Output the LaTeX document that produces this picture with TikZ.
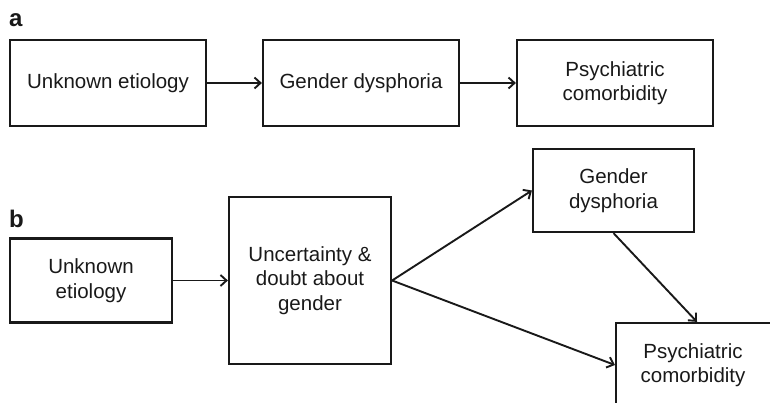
\documentclass[tikz,border=0pt]{standalone}
\usepackage{fontspec}
\setmainfont{Liberation Sans}
\usetikzlibrary{arrows.meta}
\begin{document}
\begin{tikzpicture}[x=1pt,y=-1pt,
  box/.style={draw=black!90, line width=2.2pt, align=center, inner sep=0pt,
    font=\fontsize{20.5}{24.5}\selectfont, text=black!90},
  conn/.style={line width=1.9pt, draw=black!90, -{Straight Barb[length=6pt,width=11pt,line width=1.9pt]}},
  panel/.style={font=\fontsize{24}{24}\bfseries\selectfont, inner sep=0pt, anchor=base west, text=black!90}]
\useasboundingbox (0,0) rectangle (770,403);
\clip (0,0) rectangle (770,403);
\node[panel] (la) at (9,27) {a};
\node[panel] (lb) at (9,227) {b};
% panel a
\node[box, minimum width=196pt, minimum height=86pt] (a1) at (108,83) {Unknown etiology};
\node[box, minimum width=196pt, minimum height=86pt] (a2) at (361,83) {Gender dysphoria};
\node[box, minimum width=196pt, minimum height=86pt] (a3) at (615,83) {Psychiatric\\comorbidity};
\draw[conn] (a1.east) -- (a2.west);
\draw[conn] (a2.east) -- (a3.west);
% panel b
\node[box, minimum width=162pt, minimum height=84pt] (b1) at (91,280.5) {Unknown\\etiology};
\node[box, minimum width=162pt, minimum height=167pt] (b2) at (310,280.5) {Uncertainty \&\\doubt about\\gender};
\node[box, minimum width=161pt, minimum height=83pt] (b3) at (613.5,190.5) {Gender\\dysphoria};
\node[box, minimum width=162pt, minimum height=84pt] (b4) at (697,365) {\hspace*{-8pt}Psychiatric\\\hspace*{-8pt}comorbidity};
\draw[conn] (b1.east) -- (b2.west);
\draw[conn] (b2.east) -- (b3.west);
\draw[conn] (b2.east) -- (b4.west);
\draw[conn] (b3.south) -- (b4.north);
\end{tikzpicture}
\end{document}
